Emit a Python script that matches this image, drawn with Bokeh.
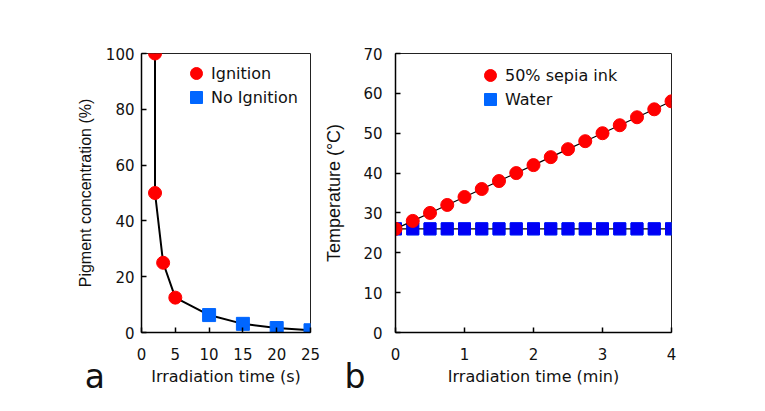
from bokeh.plotting import figure
from bokeh.layouts import row
from bokeh.models import Legend, LegendItem, Label, FixedTicker, Range1d
from bokeh.embed import file_html
from bokeh.resources import INLINE

# ---- data panel a ----
ign_time = [2, 2, 3.2, 5]
ign_conc = [100, 50, 25, 12.5]
noign_time = [10, 15, 20, 25]
noign_conc = [6.25, 3.1, 1.6, 0.8]
a_xticks = [0, 5, 10, 15, 20, 25]
a_yticks = [0, 20, 40, 60, 80, 100]

# ---- data panel b ----
b_time = [0, 0.25, 0.5, 0.75, 1, 1.25, 1.5, 1.75, 2, 2.25, 2.5, 2.75, 3, 3.25, 3.5, 3.75, 4]
ink_temp = [26, 28, 30, 32, 34, 36, 38, 40, 42, 44, 46, 48, 50, 52, 54, 56, 58]
water_temp = [26, 26, 26, 26, 26, 26, 26, 26, 26, 26, 26, 26, 26, 26, 26, 26, 26]
b_xticks = [0, 1, 2, 3, 4]
b_yticks = [0, 10, 20, 30, 40, 50, 60, 70]

RED = "#FF0000"
BLUE_L = "#0066FF"
BLUE = "#0000F5"
HFONT = "DejaVu Sans"
VFONT = "Liberation Sans"


def style(p, xt, yt, ytitle_size, ylab_standoff, ytitle_standoff):
    p.outline_line_color = "#222222"
    p.outline_line_width = 1
    p.xgrid.visible = False
    p.ygrid.visible = False
    p.background_fill_color = "white"
    p.border_fill_color = "white"
    for ax in (p.xaxis[0], p.yaxis[0]):
        ax.axis_line_color = "black"
        ax.axis_line_width = 1.5
        ax.major_tick_in = 5
        ax.major_tick_out = 0
        ax.major_tick_line_color = "black"
        ax.major_tick_line_width = 1.5
        ax.minor_tick_in = 0
        ax.minor_tick_out = 0
        ax.major_label_text_font = HFONT
        ax.major_label_text_font_size = "15px"
        ax.major_label_text_color = "#111111"
        ax.axis_label_text_font_style = "normal"
        ax.axis_label_text_color = "#111111"
    p.xaxis[0].ticker = FixedTicker(ticks=xt)
    p.yaxis[0].ticker = FixedTicker(ticks=yt)
    p.xaxis[0].major_label_standoff = 15
    p.xaxis[0].axis_label_standoff = 4
    p.xaxis[0].axis_label_text_font = HFONT
    p.xaxis[0].axis_label_text_font_size = "16px"
    p.yaxis[0].major_label_standoff = ylab_standoff
    p.yaxis[0].axis_label_standoff = ytitle_standoff
    p.yaxis[0].axis_label_text_font = VFONT
    p.yaxis[0].axis_label_text_font_size = ytitle_size


def one_legend(p, label, renderer, x, y):
    leg = Legend(items=[LegendItem(label=label, renderers=[renderer])],
                 location=(x, y), glyph_width=30, glyph_height=30, spacing=0,
                 label_standoff=0, padding=0, margin=0, border_line_color=None,
                 background_fill_alpha=0, label_text_font=HFONT,
                 label_text_font_size="16px", label_text_color="#111111")
    p.add_layout(leg)


# ---------------- panel a ----------------
pa = figure(width=321, height=405, output_backend="svg", toolbar_location=None,
            x_range=Range1d(0, 25), y_range=Range1d(0, 100),
            min_border_left=141, min_border_right=11, min_border_top=53, min_border_bottom=72,
            x_axis_label="Irradiation time (s)", y_axis_label="Pigment concentration (%)")
style(pa, a_xticks, a_yticks, "16px", 7, 9)

pa.line(ign_time + noign_time, ign_conc + noign_conc, line_color="black", line_width=2)
ra1 = pa.scatter(ign_time, ign_conc, marker="circle", size=13, fill_color=RED, line_color=RED)
ra2 = pa.scatter(noign_time, noign_conc, marker="square", size=13, fill_color=BLUE_L, line_color=BLUE_L)

one_legend(pa, "Ignition", ra1, 40, 244)
one_legend(pa, "No Ignition", ra2, 40, 220)
# panel letter placed in a side panel (not clipped to the frame), positioned in data units
pa.add_layout(Label(x=-8.4, y=-15.6, text="a",
                    text_font=HFONT, text_font_size="33px",
                    text_baseline="alphabetic", text_color="#111111"), "left")

# ---------------- panel b ----------------
pb = figure(width=420, height=405, output_backend="svg", toolbar_location=None,
            x_range=Range1d(0, 4), y_range=Range1d(0, 70),
            min_border_left=71, min_border_right=70, min_border_top=53, min_border_bottom=73,
            x_axis_label="Irradiation time (min)", y_axis_label="Temperature (°C)")
style(pb, b_xticks, b_yticks, "18px", 13, 16)

rb2_leg = pb.scatter(b_time, water_temp, marker="square", size=12, fill_color=BLUE_L, line_color=BLUE_L)
pb.line(b_time, water_temp, line_color="black", line_width=1.2)
rb2 = pb.scatter(b_time, water_temp, marker="square", size=12, fill_color=BLUE, line_color=BLUE)
pb.line(b_time, ink_temp, line_color="black", line_width=1.2)
rb1 = pb.scatter(b_time, ink_temp, marker="circle", size=13, fill_color=RED, line_color=RED)

one_legend(pb, "50% sepia ink", rb1, 80, 242)
one_legend(pb, "Water", rb2_leg, 80, 218)
pb.add_layout(Label(x=-0.74, y=-11.1, text="b",
                    text_font=HFONT, text_font_size="33px",
                    text_baseline="alphabetic", text_color="#111111"), "right")

layout = row(pa, pb)
open("out.html", "w").write(file_html(layout, INLINE))
